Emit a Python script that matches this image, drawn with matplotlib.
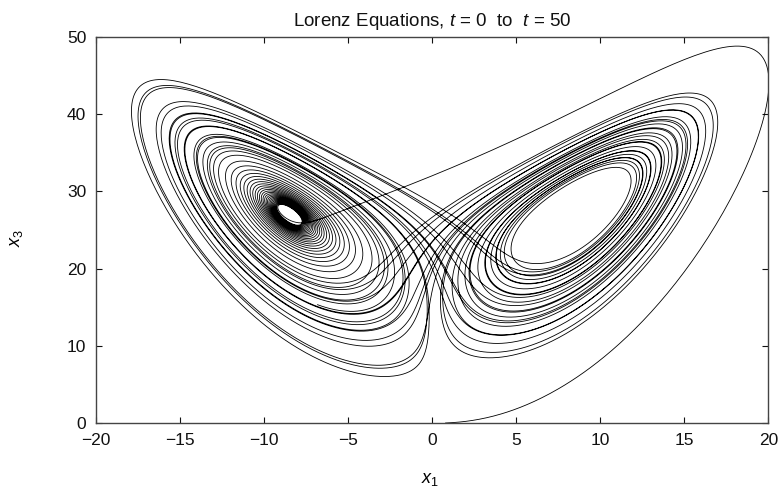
import numpy as np
import matplotlib
matplotlib.use("Agg")
import matplotlib.pyplot as plt

# Lorenz system parameters and run length
sigma = 10.0
rho = 28.0
beta = 8.0 / 3.0
t_start = 0.0
t_end = 50.0
x_init = [0.8, 6.15, 0.0]   # x1, x2, x3 at t = 0
dt = 0.002

x_ticks = [-20, -15, -10, -5, 0, 5, 10, 15, 20]
y_ticks = [0, 10, 20, 30, 40, 50]


def lorenz(s):
    x1, x2, x3 = s
    return np.array([sigma * (x2 - x1),
                     x1 * (rho - x3) - x2,
                     x1 * x2 - beta * x3])


def rk4_step(s, h):
    k1 = lorenz(s)
    k2 = lorenz(s + 0.5 * h * k1)
    k3 = lorenz(s + 0.5 * h * k2)
    k4 = lorenz(s + h * k3)
    return s + h / 6.0 * (k1 + 2 * k2 + 2 * k3 + k4)


n_steps = int(round((t_end - t_start) / dt))
traj = np.empty((n_steps + 1, 3))
traj[0] = x_init
for i in range(n_steps):
    traj[i + 1] = rk4_step(traj[i], dt)

plt.rcParams["font.family"] = ["Liberation Sans", "DejaVu Sans"]
plt.rcParams["mathtext.fontset"] = "custom"
plt.rcParams["mathtext.rm"] = "Liberation Sans"
plt.rcParams["mathtext.it"] = "Liberation Sans:italic"

fig = plt.figure(figsize=(7.8, 4.93), dpi=100)
ax = fig.add_axes([0.123, 0.142, 0.862, 0.783])
ax.plot(traj[:, 0], traj[:, 2], color="black", lw=0.6)

ax.set_xlim(x_ticks[0], x_ticks[-1])
ax.set_ylim(y_ticks[0], y_ticks[-1])
ax.set_xticks(x_ticks)
ax.set_yticks(y_ticks)
ax.set_xticklabels([str(v).replace("-", "\u2212") for v in x_ticks])
ax.tick_params(direction="in", length=4, width=0.8, top=True, right=True,
               labelsize=12.5, pad=7, colors="#111111")
for sp in ax.spines.values():
    sp.set_linewidth(1.0)
    sp.set_color("#444444")

ax.set_title("Lorenz Equations, $t$ = 0  to  $t$ = 50", fontsize=13.5, pad=8,
             color="#111111")
ax.set_xlabel("$x_1$", fontsize=13)
ax.set_ylabel("$x_3$", fontsize=13)
ax.xaxis.set_label_coords(0.497, -0.125)
ax.yaxis.set_label_coords(-0.106, 0.48)

fig.savefig("out.png", dpi=100)
